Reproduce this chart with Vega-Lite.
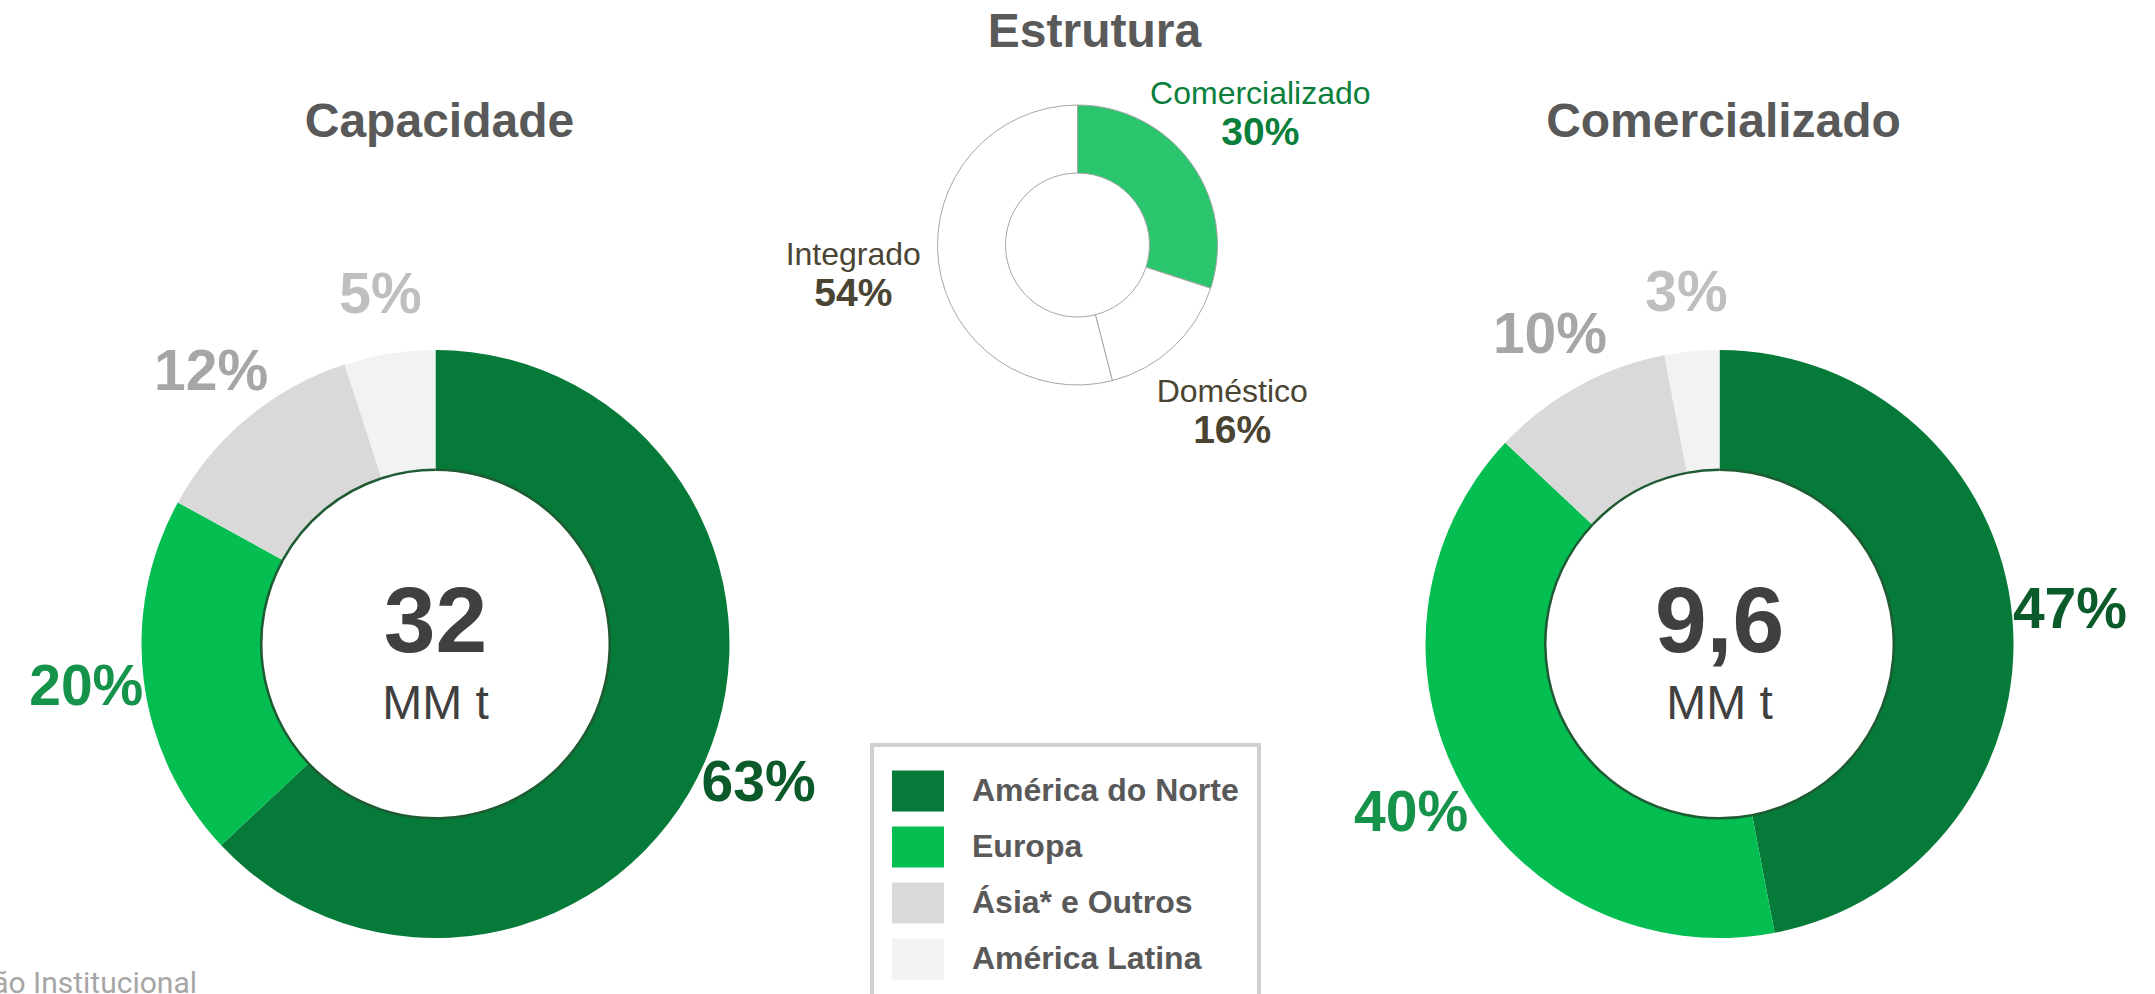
{
  "$schema": "https://vega.github.io/schema/vega-lite/v6.json",
  "width": 2155,
  "height": 994,
  "autosize": {"type": "none"},
  "padding": 0,
  "background": "white",
  "config": {
    "view": {"stroke": null},
    "legend": {"strokeWidth": 4},
    "locale": {"number": {"decimal": ",", "thousands": ".", "grouping": [3], "currency": ["R$ ", ""]}}
  },
  "title": {
    "text": "Apresentação Institucional",
    "orient": "bottom",
    "anchor": "start",
    "align": "right",
    "dx": 197,
    "offset": -9,
    "baseline": "alphabetic",
    "font": "Roboto",
    "fontSize": 30,
    "fontWeight": "normal",
    "color": "#A6A6A6"
  },
  "datasets": {
    "regioes": [
      {"painel": "Capacidade", "grupo": "Regiões", "regiao": "América do Norte", "share": 0.63},
      {"painel": "Capacidade", "grupo": "Regiões", "regiao": "Europa", "share": 0.20},
      {"painel": "Capacidade", "grupo": "Regiões", "regiao": "Ásia* e Outros", "share": 0.12},
      {"painel": "Capacidade", "grupo": "Regiões", "regiao": "América Latina", "share": 0.05},
      {"painel": "Comercializado", "grupo": "Regiões", "regiao": "América do Norte", "share": 0.47},
      {"painel": "Comercializado", "grupo": "Regiões", "regiao": "Europa", "share": 0.40},
      {"painel": "Comercializado", "grupo": "Regiões", "regiao": "Ásia* e Outros", "share": 0.10},
      {"painel": "Comercializado", "grupo": "Regiões", "regiao": "América Latina", "share": 0.03}
    ],
    "estrutura": [
      {"painel": "Estrutura", "grupo": "Estrutura", "segmento": "Comercializado", "share": 0.30},
      {"painel": "Estrutura", "grupo": "Estrutura", "segmento": "Doméstico", "share": 0.16},
      {"painel": "Estrutura", "grupo": "Estrutura", "segmento": "Integrado", "share": 0.54}
    ],
    "paineis": [
      {"painel": "Capacidade", "grupo": "Regiões", "total": 32, "unidade": "MM t"},
      {"painel": "Estrutura", "grupo": "Estrutura"},
      {"painel": "Comercializado", "grupo": "Regiões", "total": 9.6, "unidade": "MM t"}
    ]
  },
  "encoding": {
    "x": {"field": "painel", "type": "nominal", "axis": null,
      "scale": {"type": "point", "domain": ["Capacidade", "Estrutura", "Comercializado"], "padding": 0.6783, "align": 0.5}},
    "y": {"field": "grupo", "type": "nominal", "axis": null,
      "scale": {"type": "point", "domain": ["Estrutura", "Regiões"], "padding": 0.7456, "align": 0.4118}}
  },
  "layer": [
    {
      "data": {"name": "regioes"},
      "transform": [
        {"filter": "datum.painel === 'Capacidade'"},
        {"window": [{"op": "row_number", "as": "ordem"}]}
      ],
      "encoding": {
        "theta": {"field": "share", "type": "quantitative", "stack": true},
        "order": {"field": "ordem", "type": "quantitative"}
      },
      "layer": [
        {
          "mark": {"type": "arc", "innerRadius": 174, "outerRadius": 294},
          "encoding": {
            "color": {"field": "regiao", "type": "nominal",
              "scale": {"domain": ["América do Norte", "Europa", "Ásia* e Outros", "América Latina"], "range": ["#067A38", "#04BE51", "#D9D9D9", "#F2F2F2"]},
              "legend": {"title": null, "orient": "none", "legendX": 872, "legendY": 745, "direction": "vertical",
                "padding": 20, "strokeColor": "#D0D0D0", "fillColor": "#FFFFFF",
                "symbolType": "M-1,-0.79H1V0.79H-1Z", "symbolSize": 2704, "symbolStrokeWidth": 0, "symbolOpacity": 1,
                "labelFont": "Liberation Sans", "labelFontSize": 32, "labelFontWeight": "bold", "labelColor": "#595959",
                "labelOffset": 28, "rowPadding": 9, "labelLimit": 400}
            }
          }
        },
        {
          "mark": {"type": "arc", "innerRadius": 173, "outerRadius": 175.5, "color": "#1E5A32"},
          "encoding": {}
        },
        {
          "mark": {"type": "text", "radius": 352, "font": "Liberation Sans", "fontSize": 57, "fontWeight": "bold", "baseline": "middle", "align": "center"},
          "encoding": {
            "text": {"field": "share", "type": "quantitative", "format": ".0%"},
            "fill": {"field": "regiao", "type": "nominal",
              "scale": {"domain": ["América do Norte", "Europa", "Ásia* e Outros", "América Latina"], "range": ["#0B5A2A", "#15934A", "#A6A6A6", "#BFBFBF"]},
              "legend": null}
          }
        }
      ]
    },
    {
      "data": {"name": "regioes"},
      "transform": [
        {"filter": "datum.painel === 'Comercializado'"},
        {"window": [{"op": "row_number", "as": "ordem"}]}
      ],
      "encoding": {
        "theta": {"field": "share", "type": "quantitative", "stack": true},
        "order": {"field": "ordem", "type": "quantitative"}
      },
      "layer": [
        {
          "mark": {"type": "arc", "innerRadius": 174, "outerRadius": 294},
          "encoding": {
            "color": {"field": "regiao", "type": "nominal",
              "scale": {"domain": ["América do Norte", "Europa", "Ásia* e Outros", "América Latina"], "range": ["#067A38", "#04BE51", "#D9D9D9", "#F2F2F2"]},
              "legend": {"title": null, "orient": "none", "legendX": 872, "legendY": 745, "direction": "vertical",
                "padding": 20, "strokeColor": "#D0D0D0", "fillColor": "#FFFFFF",
                "symbolType": "M-1,-0.79H1V0.79H-1Z", "symbolSize": 2704, "symbolStrokeWidth": 0, "symbolOpacity": 1,
                "labelFont": "Liberation Sans", "labelFontSize": 32, "labelFontWeight": "bold", "labelColor": "#595959",
                "labelOffset": 28, "rowPadding": 9, "labelLimit": 400}
            }
          }
        },
        {
          "mark": {"type": "arc", "innerRadius": 173, "outerRadius": 175.5, "color": "#1E5A32"},
          "encoding": {}
        },
        {
          "mark": {"type": "text", "radius": 352, "font": "Liberation Sans", "fontSize": 57, "fontWeight": "bold", "baseline": "middle", "align": "center"},
          "encoding": {
            "text": {"field": "share", "type": "quantitative", "format": ".0%"},
            "fill": {"field": "regiao", "type": "nominal",
              "scale": {"domain": ["América do Norte", "Europa", "Ásia* e Outros", "América Latina"], "range": ["#0B5A2A", "#15934A", "#A6A6A6", "#BFBFBF"]},
              "legend": null}
          }
        }
      ]
    },
    {
      "data": {"name": "estrutura"},
      "transform": [
        {"window": [{"op": "row_number", "as": "ordem"}]}
      ],
      "encoding": {
        "theta": {"field": "share", "type": "quantitative", "stack": true},
        "order": {"field": "ordem", "type": "quantitative"}
      },
      "layer": [
        {
          "mark": {"type": "arc", "innerRadius": 72, "outerRadius": 140, "stroke": "#A6A6A6", "strokeWidth": 1},
          "encoding": {
            "fill": {"field": "segmento", "type": "nominal",
              "scale": {"domain": ["Comercializado", "Doméstico", "Integrado"], "range": ["#2BC56D", "#FFFFFF", "#FFFFFF"]},
              "legend": null}
          }
        },
        {
          "mark": {"type": "text", "radius": 226, "dy": -18, "font": "Liberation Sans", "fontSize": 32, "baseline": "middle", "align": "center"},
          "encoding": {
            "text": {"field": "segmento", "type": "nominal"},
            "fill": {"field": "segmento", "type": "nominal",
              "scale": {"domain": ["Comercializado", "Doméstico", "Integrado"], "range": ["#0A7F3B", "#4A4433", "#4A4433"]},
              "legend": null}
          }
        },
        {
          "mark": {"type": "text", "radius": 226, "dy": 21, "font": "Liberation Sans", "fontSize": 39, "fontWeight": "bold", "baseline": "middle", "align": "center"},
          "encoding": {
            "text": {"field": "share", "type": "quantitative", "format": ".0%"},
            "fill": {"field": "segmento", "type": "nominal",
              "scale": {"domain": ["Comercializado", "Doméstico", "Integrado"], "range": ["#0A7F3B", "#4A4433", "#4A4433"]},
              "legend": null}
          }
        }
      ],
      "resolve": {"scale": {"fill": "independent"}}
    },
    {
      "data": {"name": "paineis"},
      "layer": [
        {
          "transform": [{"filter": "datum.grupo === 'Regiões'"}],
          "mark": {"type": "text", "dy": -507, "dx": 4, "font": "Liberation Sans", "fontSize": 48, "fontWeight": "bold", "baseline": "alphabetic", "align": "center", "color": "#595959"},
          "encoding": {"text": {"field": "painel", "type": "nominal"}}
        },
        {
          "transform": [{"filter": "datum.grupo === 'Estrutura'"}],
          "mark": {"type": "text", "dy": -198, "dx": 17, "font": "Liberation Sans", "fontSize": 48, "fontWeight": "bold", "baseline": "alphabetic", "align": "center", "color": "#595959"},
          "encoding": {"text": {"field": "painel", "type": "nominal"}}
        },
        {
          "transform": [{"filter": "isValid(datum.total)"}],
          "mark": {"type": "text", "dy": 8, "font": "Liberation Sans", "fontSize": 93, "fontWeight": "bold", "baseline": "alphabetic", "align": "center", "color": "#404040"},
          "encoding": {"text": {"field": "total", "type": "quantitative", "format": "~g"}}
        },
        {
          "transform": [{"filter": "isValid(datum.total)"}],
          "mark": {"type": "text", "dy": 75, "font": "Liberation Sans", "fontSize": 48, "baseline": "alphabetic", "align": "center", "color": "#404040"},
          "encoding": {"text": {"field": "unidade", "type": "nominal"}}
        }
      ]
    }
  ],
  "resolve": {"scale": {"theta": "independent", "fill": "independent"}, "legend": {"fill": "independent"}}
}
